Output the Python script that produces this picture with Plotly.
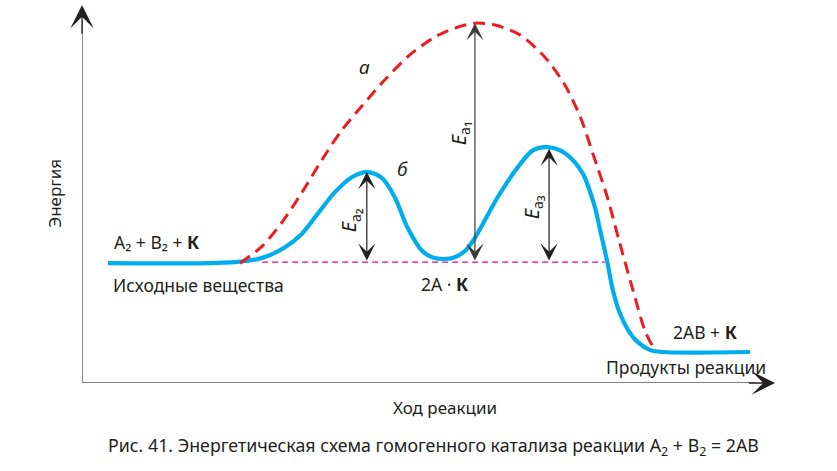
import plotly.graph_objects as go

# ---- data (reaction coordinate 0..100, energy 0..100) ----
blue_x = [3.75, 22.1, 26.0, 29.3, 31.7, 34.1, 36.5, 39.0, 41.1, 43.3, 45.2, 47.0, 49.1,
          50.6, 52.2, 53.7, 55.3, 56.7, 60.0, 62.9, 65.1, 67.2, 69.7, 72.2, 74.0, 74.7,
          75.8, 76.6, 77.6, 78.8, 80.2, 82.0, 83.7, 96.4]
blue_y = [31.7, 32.0, 33.1, 35.9, 39.4, 45.0, 50.5, 54.5, 55.8, 54.2, 48.9, 41.0, 34.9,
          33.2, 32.8, 33.2, 35.0, 38.4, 49.2, 57.1, 61.6, 62.4, 60.8, 55.6, 46.6, 41.0,
          32.0, 24.6, 18.5, 14.0, 10.8, 8.7, 8.2, 8.2]

red_x = [22.8, 26.0, 28.9, 31.7, 34.6, 37.5, 40.4, 43.7, 47.3, 50.9, 53.8, 56.7, 59.6,
         63.2, 66.8, 69.7, 71.9, 73.7, 75.8, 77.6, 79.5, 81.2, 82.4]
red_y = [31.7, 36.2, 42.6, 50.3, 59.0, 66.9, 73.3, 80.2, 86.8, 91.5, 93.9, 95.2, 94.7,
         92.1, 86.2, 78.8, 70.4, 60.8, 49.2, 37.0, 24.6, 14.0, 9.5]

base_x = [26.0, 75.5]
base_level = 32.0

ea_digits = ["₂", "₁", "₃"]
ea_x = [41.1, 56.7, 67.4]
ea_top = [55.8, 95.2, 62.0]
ea_label_x = [38.8, 54.5, 65.1]
ea_label_y = [43.0, 66.0, 46.5]

FONT = "Noto Sans"
TXT = "#231F20"

fig = go.Figure()
fig.add_trace(go.Scatter(x=base_x, y=[base_level, base_level], mode="lines",
                         line=dict(color="#EC008C", width=1.3, dash="6px,4px"),
                         hoverinfo="skip", cliponaxis=False))
fig.add_trace(go.Scatter(x=blue_x, y=blue_y, mode="lines",
                         line=dict(color="#00AEEF", width=4.2, shape="spline", smoothing=0.9),
                         hoverinfo="skip", cliponaxis=False))
fig.add_trace(go.Scatter(x=red_x, y=red_y, mode="lines",
                         line=dict(color="#ED1C24", width=3, shape="spline", smoothing=0.8,
                                   dash="12px,7px"),
                         hoverinfo="skip", cliponaxis=False))

ann = []
shapes = []
# axes
shapes.append(dict(type="line", xref="x", yref="y", x0=0, y0=0, x1=0, y1=96,
                   line=dict(color="#58595B", width=1.4)))
shapes.append(dict(type="line", xref="x", yref="y", x0=0, y0=0, x1=97, y1=0,
                   line=dict(color="#58595B", width=1.4)))
ann.append(dict(x=0, y=100, ax=0, ay=92, xref="x", yref="y", axref="x", ayref="y",
                text="", showarrow=True, arrowhead=3, arrowsize=3.0, arrowwidth=1.3,
                arrowcolor=TXT, standoff=0))
ann.append(dict(x=100, y=0, ax=96, ay=0, xref="x", yref="y", axref="x", ayref="y",
                text="", showarrow=True, arrowhead=3, arrowsize=3.0, arrowwidth=1.3,
                arrowcolor=TXT, standoff=0))

# activation energy arrows
for i in range(3):
    ann.append(dict(x=ea_x[i], y=ea_top[i], ax=ea_x[i], ay=base_level,
                    xref="x", yref="y", axref="x", ayref="y", text="", showarrow=True,
                    arrowhead=3, arrowsize=2.4, arrowwidth=1.2, arrowside="end+start",
                    arrowcolor=TXT if i != 1 else "#3a3a3a", standoff=0, startstandoff=0))
    ann.append(dict(x=ea_label_x[i], y=ea_label_y[i], xref="x", yref="y",
                    text="<i>E</i><sub>a<span style='font-size:17px'>" + ea_digits[i]
                         + "</span></sub>",
                    showarrow=False, textangle=-90,
                    font=dict(family=FONT, size=20, color=TXT)))

def label(x, y, text, size=17.5, xanchor="center", italic=False):
    t = f"<i>{text}</i>" if italic else text
    ann.append(dict(x=x, y=y, xref="x", yref="y", text=t, showarrow=False,
                    xanchor=xanchor, yanchor="middle",
                    font=dict(family=FONT, size=size, color=TXT)))

label(4.4, 37.2, "A₂ + B₂ + <b>К</b>", 17.5, "left")
label(4.2, 25.9, "Исходные вещества", 17.5, "left")
label(40.8, 83.6, "а", 19, italic=True)
label(46.3, 56.5, "б", 19, italic=True)
label(52.4, 26.2, "2A · <b>К</b>", 17.5)
label(89.9, 13.6, "2AB + <b>К</b>", 17.5)
label(87.2, 4.2, "Продукты реакции", 17.5)

# labels outside the plotting area (paper coordinates)
ann.append(dict(x=0.524, y=-0.064, xref="paper", yref="paper", text="Ход реакции",
                xanchor="center", yanchor="middle",
                showarrow=False, font=dict(family=FONT, size=17, color=TXT)))
ann.append(dict(x=-0.039, y=0.503, xref="paper", yref="paper", text="Энергия",
                xanchor="center", yanchor="middle",
                showarrow=False, textangle=-90, font=dict(family=FONT, size=17, color=TXT)))
ann.append(dict(x=0.507, y=-0.169, xref="paper", yref="paper",
                xanchor="center", yanchor="middle",
                text="Рис. 41. Энергетическая схема гомогенного катализа реакции A<sub>2</sub> + B<sub>2</sub> = 2AB",
                showarrow=False, font=dict(family=FONT, size=17.8, color=TXT)))

fig.update_layout(
    width=837, height=471,
    margin=dict(l=82, r=62, t=5, b=88, pad=0),
    paper_bgcolor="white", plot_bgcolor="white",
    showlegend=False,
    xaxis=dict(range=[0, 100], visible=False, fixedrange=True),
    yaxis=dict(range=[0, 100], visible=False, fixedrange=True),
    annotations=ann, shapes=shapes,
)
fig.write_html("out.html")
